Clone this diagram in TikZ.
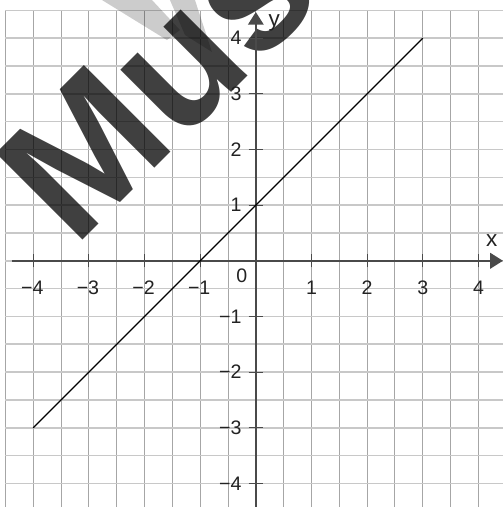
\documentclass[tikz,border=0pt]{standalone}
\usepackage{fontspec}
\setmainfont{Liberation Sans}
\usetikzlibrary{arrows.meta}
\definecolor{vgrid}{HTML}{A6A6A6}
\definecolor{hgrid}{HTML}{C8C8C8}
\definecolor{axisgray}{HTML}{4A4A4A}
\definecolor{labelgray}{HTML}{222222}
\begin{document}
\begin{tikzpicture}[x=1cm,y=1cm,
  every node/.append style={inner sep=0pt, text=labelgray, font=\fontsize{10}{12}\selectfont},
  axisline/.style={axisgray, line width=0.8pt, -{Triangle[length=6.5pt,width=8pt]}},
  tickline/.style={axisgray, line width=0.6pt},
  marktext/.style={rotate=45, anchor=base west, text=black, text opacity=0.75,
    font=\bfseries\fontsize{91}{91}\selectfont},
  markshade/.style={fill=black, fill opacity=0.2}]
\useasboundingbox (-4.597,-4.424) rectangle (4.441,4.686);
\begin{scope}
\clip (-4.597,-4.424) rectangle (4.441,4.686);
% grid
\foreach \i in {-9,...,9}
  \draw [vgrid, line width=0.5pt] (\i/2,-4.5) -- (\i/2,4.5);
\foreach \i in {-9,...,9}
  \draw [hgrid, line width=0.8pt] (-4.5,\i/2) -- (4.5,\i/2);
% watermark
\fill [markshade] (-2.765,4.686) -- (-1.866,4.686) -- (-1.363,4.147) -- (-1.597,3.967) -- cycle;
\fill [markshade] (-1.543,4.686) -- (-1.094,4.686) -- (-0.788,3.752) -- (-1.273,4.057) -- cycle;
\node [marktext] (mark) at (-3.265,0.209) {Mus};
\end{scope}
% axes
\coordinate (xs) at (-4.39,0);
\coordinate (xe) at (4.44,0);
\coordinate (ys) at (0,-4.6);
\coordinate (ye) at (0,4.47);
\draw [axisline] (xs) -- (xe);
\draw [axisline] (ys) -- (ye);
\foreach \v in {-4,...,-1,1,2,3,4}
  \draw [tickline] (\v,-0.12) -- (\v,0.12);
\foreach \v in {-4,...,-1,1,2,3,4}
  \draw [tickline] (-0.13,\v) -- (0.13,\v);
% labels
\foreach \v in {1,...,4} {
  \node (xl\v) at (\v,-0.49) {\v};
  \node [anchor=east] (xlm\v) at (-\v+0.19,-0.49) {−\v};
  \node [anchor=east] (yl\v) at (-0.25,\v) {\v};
  \node [anchor=east] (ylm\v) at (-0.25,-\v) {−\v};
}
\node (orig) at (-0.25,-0.27) {0};
\node [font=\fontsize{11.5}{12}\selectfont] (xname) at (4.24,0.36) {x};
\node [font=\fontsize{11.5}{12}\selectfont] (yname) at (0.33,4.27) {y};
% graph
\coordinate (la) at (-4,-3);
\coordinate (lb) at (3,4);
\draw [black, line width=0.6pt] (la) -- (lb);
\end{tikzpicture}
\end{document}
